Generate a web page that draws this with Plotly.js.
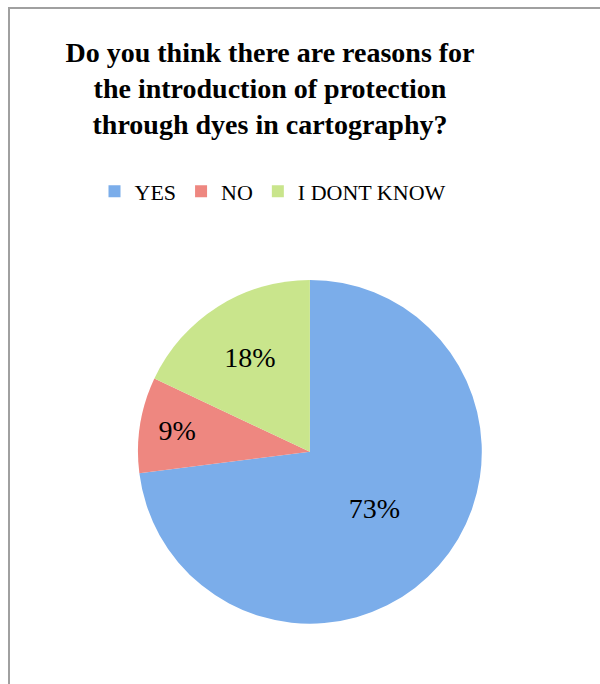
<!DOCTYPE html>
<html>
<head>
<meta charset="utf-8">
<script src="https://cdn.plot.ly/plotly-3.0.1.min.js"></script>
<style>
  html, body { margin: 0; padding: 0; background: #ffffff; }
  #wrap { position: relative; width: 600px; height: 684px; overflow: hidden; }
  #frameTop { position: absolute; left: 8px; top: 7px; width: 600px; height: 2px;
              background: #a0a0a0; z-index: 2; }
  #frameLeft { position: absolute; left: 8px; top: 7px; width: 2px; height: 700px;
               background: #a0a0a0; z-index: 2; }
  #chart { width: 600px; height: 684px; }
</style>
</head>
<body>
<div id="wrap">
<div id="frameTop"></div>
<div id="frameLeft"></div>
<div id="chart"></div>
</div>
<script>
// Data
const categories = ["YES", "NO", "I DONT KNOW"];
const percentages = [73, 9, 18];
const sliceColors = ["#7badea", "#ee8780", "#c9e58c"];
const chartTitle = "Do you think there are reasons for<br>the introduction of protection<br>through dyes in cartography?";

const trace = {
  type: "pie",
  labels: categories,
  values: percentages,
  sort: false,
  direction: "clockwise",
  rotation: 0,
  textinfo: "percent",
  textposition: "inside",
  insidetextorientation: "horizontal",
  textfont: { family: "Liberation Serif, serif", size: 28, color: "#000000" },
  marker: { colors: sliceColors, line: { width: 0 } },
  domain: { x: [0.23, 0.803], y: [0.088, 0.591] },
  hoverinfo: "none"
};

const layout = {
  width: 600,
  height: 684,
  margin: { l: 0, r: 0, t: 0, b: 0 },
  paper_bgcolor: "#ffffff",
  plot_bgcolor: "#ffffff",
  title: {
    text: chartTitle,
    x: 0.45,
    xanchor: "center",
    y: 0.91,
    yanchor: "top",
    yref: "container",
    font: { family: "Liberation Serif, serif", size: 28, color: "#000000", weight: "bold" }
  },
  showlegend: true,
  legend: {
    orientation: "h",
    x: 0.455,
    xanchor: "center",
    y: 0.72,
    yanchor: "middle",
    font: { family: "Liberation Serif, serif", size: 22, color: "#000000" },
    itemwidth: 30
  }
};

Plotly.newPlot("chart", [trace], layout, { displayModeBar: false, staticPlot: true });
</script>
</body>
</html>
